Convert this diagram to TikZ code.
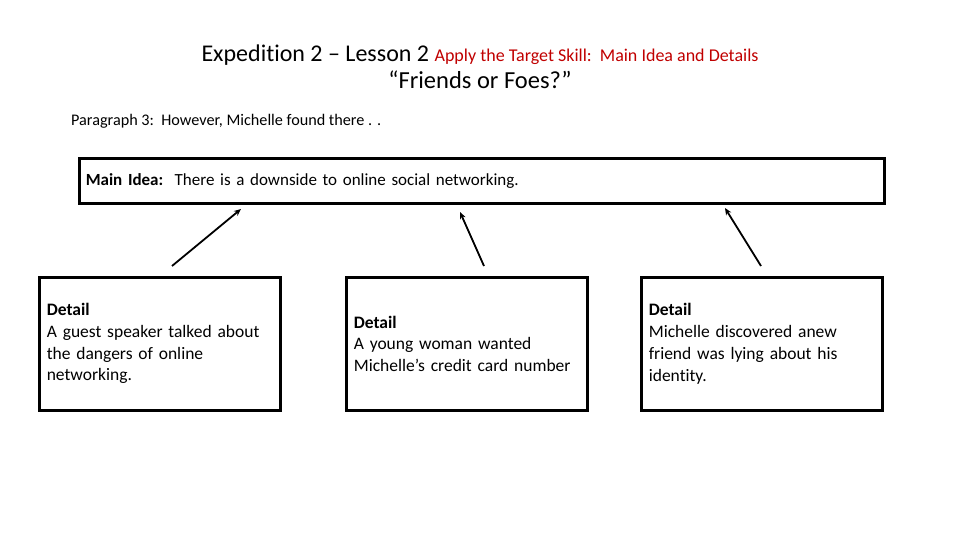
\documentclass[tikz,border=0pt]{standalone}
\usepackage{fontspec}
\setmainfont{Carlito}[Ligatures={TeX,NoCommon}]
\usetikzlibrary{arrows.meta}
\definecolor{titlered}{RGB}{192,0,0}
\tikzset{
  x=1pt, y=-1pt,
  mainbox/.style={draw, line width=2.6pt, rectangle, minimum width=805pt, minimum height=45pt, anchor=north west, inner sep=0pt, text width=790pt, align=left, font=\fontsize{17}{20}\selectfont},
  detailbox/.style={draw, line width=2.6pt, rectangle, minimum width=241pt, minimum height=133pt, anchor=north west, inner sep=7pt, text width=226pt, align=left, font=\fontsize{17.5}{21.7}\selectfont},
  link/.style={line width=1.8pt, -{Stealth[length=7pt,width=6pt]}}
}
\begin{document}
\begin{tikzpicture}
\useasboundingbox (0,0) rectangle (960,540);
\node[anchor=base, align=center, inner sep=0pt] (title) at (480,89)
  {{\fontsize{24}{28}\selectfont Expedition 2 – Lesson 2 }{\fontsize{18}{28}\selectfont\color{titlered}Apply the Target Skill:\ \ Main Idea and Details}\\[5pt]
   {\fontsize{24.5}{28}\selectfont “Friends or Foes?”}};
\node[anchor=base west, inner sep=0pt, font=\fontsize{16.2}{19}\selectfont] (para) at (71,126)
  {Paragraph 3:\ \ However, Michelle found there . .};
\node[mainbox] (main) at (78,157)
  {\hspace*{-1pt}\textbf{Main Idea:}\ \ There is a downside to online social networking.};
\node[detailbox] (d1) at (38,276)
  {\textbf{Detail}\\A guest speaker talked about\\the dangers of online\\networking.};
\node[detailbox] (d2) at (345,276)
  {\textbf{Detail}\\A young woman wanted\\Michelle’s credit card number};
\node[detailbox] (d3) at (640,276)
  {\textbf{Detail}\\Michelle discovered anew\\friend was lying about his\\identity.};
\coordinate (a1s) at (172,266);
\coordinate (a1e) at (241,209);
\coordinate (a2s) at (484,266);
\coordinate (a2e) at (460,212);
\coordinate (a3s) at (761,266);
\coordinate (a3e) at (725,208);
\draw[link] (a1s) -- (a1e);
\draw[link] (a2s) -- (a2e);
\draw[link] (a3s) -- (a3e);
\end{tikzpicture}
\end{document}
